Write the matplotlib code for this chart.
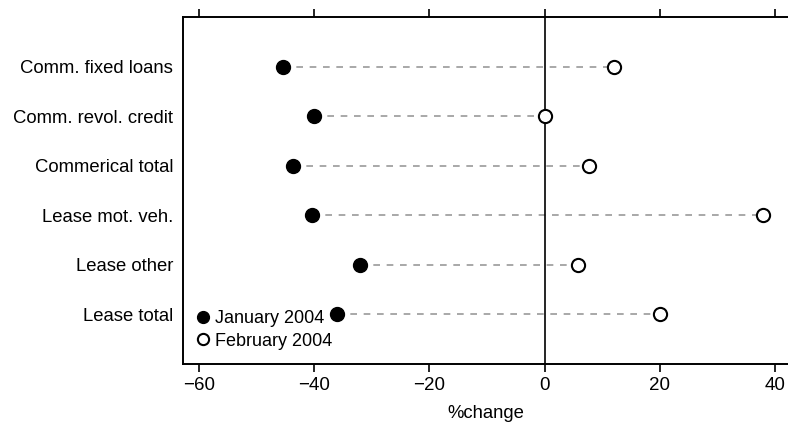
import matplotlib.pyplot as plt

plt.rcParams["font.family"] = ["Liberation Sans", "DejaVu Sans"]

categories = ["Comm. fixed loans", "Comm. revol. credit", "Commerical total",
              "Lease mot. veh.", "Lease other", "Lease total"]
jan_2004 = [-45.4, -40.0, -43.7, -40.4, -32.1, -36.0]
feb_2004 = [12.1, 0.0, 7.8, 38.0, 5.8, 20.1]

INK = "#000000"
DASH = "#999999"

fig = plt.figure(figsize=(7.88, 4.23), dpi=100)
ax = fig.add_axes([183 / 788, 1 - 364 / 423, 1 - 183 / 788, (364 - 17) / 423])

ypos = list(range(len(categories), 0, -1))

for y, a, b in zip(ypos, jan_2004, feb_2004):
    ax.plot([a, b], [y, y], color=DASH, lw=1.2, ls=(0, (4, 4)), zorder=1)

ax.axvline(0, color=INK, lw=1.2, zorder=2)

ax.plot(jan_2004, ypos, "o", color=INK, ms=10, ls="none", zorder=3,
        label="January 2004")
ax.plot(feb_2004, ypos, "o", mfc="white", mec=INK, mew=1.5, ms=9.5, ls="none",
        zorder=3, label="February 2004")

ax.set_xlim(-62.8, 42.3)
ax.set_ylim(0, 7)
ax.set_yticks(ypos)
ax.set_yticklabels(categories, fontsize=13.3)
ax.tick_params(axis="y", length=0, pad=7)
ax.set_xticks([-60, -40, -20, 0, 20, 40])
ax.set_xticklabels(["\u221260", "\u221240", "\u221220", "0", "20", "40"])
ax.tick_params(axis="x", which="both", top=True, bottom=True, direction="out",
               length=6, width=1.2, labelsize=13.5, pad=3)
ax.set_xlabel("%change", fontsize=13.3, labelpad=8)

for side in ["left", "top", "bottom"]:
    ax.spines[side].set_linewidth(1.4)
ax.spines["right"].set_visible(False)

leg = ax.legend(loc="lower left", bbox_to_anchor=(0.0, 0.0), frameon=False,
                fontsize=13, handlelength=0.6, handletextpad=0.35,
                labelspacing=0.3, borderaxespad=0.4, markerscale=0.85)

fig.savefig("out.png", dpi=100)
